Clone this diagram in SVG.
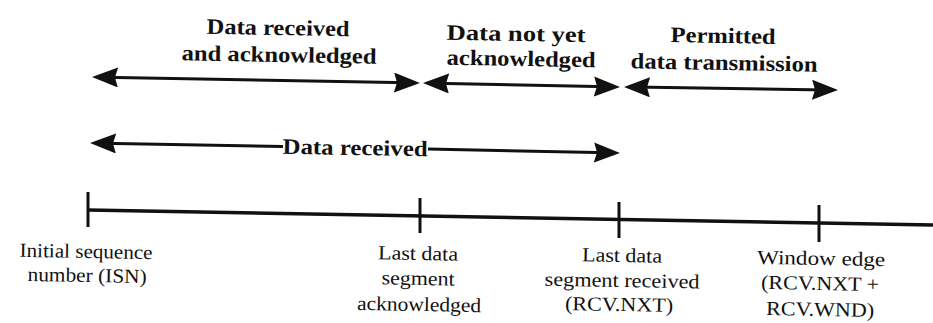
<svg xmlns="http://www.w3.org/2000/svg" width="933" height="323" viewBox="0 0 933 323">
<style>
  .hd { font-weight: bold; font-size: 22px; }
  .lb { font-weight: normal; font-size: 20px; }
  .ar { stroke: #111; stroke-width: 3; fill: none; }
  .tl { stroke: #111; stroke-width: 3.5; fill: none; }
  .tk { stroke: #111; stroke-width: 3; fill: none; }
</style>
<defs>
  <marker id="ah" markerUnits="userSpaceOnUse" markerWidth="27" markerHeight="21" viewBox="0 0 27 21" refX="15" refY="10" orient="auto-start-reverse">
    <path d="M0,0 L26,10 L0,20 L3,10 Z" fill="#111"/>
  </marker>
</defs>
<rect width="933" height="323" fill="#fff"/>

<g id="connectors">
  <path class="ar" d="M103,77.2 L409,82.8" marker-start="url(#ah)" marker-end="url(#ah)"/>
  <path class="ar" d="M434,83.2 L609,86.8" marker-start="url(#ah)" marker-end="url(#ah)"/>
  <path class="ar" d="M635,87.1 L827,89.9" marker-start="url(#ah)" marker-end="url(#ah)"/>
  <path class="ar" d="M101,143.2 L283,146.5" marker-start="url(#ah)"/>
  <path class="ar" d="M428,149 L609,152.8" marker-end="url(#ah)"/>
  <path class="tl" d="M88,210 L933,225"/>
  <path class="tk" d="M88,192 L88,227"/>
  <path class="tk" d="M420,198 L420,233"/>
  <path class="tk" d="M619,202 L619,238"/>
  <path class="tk" d="M819,205 L819,242"/>
</g>

<g font-family="Liberation Serif, Times New Roman, serif" fill="#111" text-anchor="middle">
<g id="seg-received-ack">
  <text class="hd" x="278" y="35" textLength="143" lengthAdjust="spacingAndGlyphs" transform="rotate(1 278 35)">Data received</text>
  <text class="hd" x="279" y="62" textLength="195" lengthAdjust="spacingAndGlyphs" transform="rotate(1 279 62)">and acknowledged</text>
</g>
<g id="seg-not-ack">
  <text class="hd" x="516" y="41" textLength="139" lengthAdjust="spacingAndGlyphs" transform="rotate(1 516 41)">Data not yet</text>
  <text class="hd" x="521" y="66" textLength="149" lengthAdjust="spacingAndGlyphs" transform="rotate(1 521 66)">acknowledged</text>
</g>
<g id="seg-permitted">
  <text class="hd" x="723" y="43" textLength="105" lengthAdjust="spacingAndGlyphs" transform="rotate(1 723 43)">Permitted</text>
  <text class="hd" x="724" y="70" textLength="187" lengthAdjust="spacingAndGlyphs" transform="rotate(1 724 70)">data transmission</text>
</g>
<g id="seg-received">
  <text class="hd" x="355" y="155" textLength="145" lengthAdjust="spacingAndGlyphs" transform="rotate(1 355 155)">Data received</text>
</g>

<g id="mark-isn">
  <text class="lb" x="86" y="258" textLength="133" lengthAdjust="spacingAndGlyphs" transform="rotate(1 86 258)">Initial sequence</text>
  <text class="lb" x="87" y="282" textLength="119" lengthAdjust="spacingAndGlyphs" transform="rotate(1 87 282)">number (ISN)</text>
</g>
<g id="mark-last-ack">
  <text class="lb" x="418" y="260" textLength="80" lengthAdjust="spacingAndGlyphs" transform="rotate(1 418 260)">Last data</text>
  <text class="lb" x="418" y="285" textLength="73" lengthAdjust="spacingAndGlyphs" transform="rotate(1 418 285)">segment</text>
  <text class="lb" x="419" y="311" textLength="124" lengthAdjust="spacingAndGlyphs" transform="rotate(1 419 311)">acknowledged</text>
</g>
<g id="mark-rcv-nxt">
  <text class="lb" x="622" y="262" textLength="80" lengthAdjust="spacingAndGlyphs" transform="rotate(1 622 262)">Last data</text>
  <text class="lb" x="622" y="287" textLength="155" lengthAdjust="spacingAndGlyphs" transform="rotate(1 622 287)">segment received</text>
  <text class="lb" x="619" y="311" textLength="108" lengthAdjust="spacingAndGlyphs" transform="rotate(1 619 311)">(RCV.NXT)</text>
</g>
<g id="mark-window-edge">
  <text class="lb" x="821" y="265" textLength="128" lengthAdjust="spacingAndGlyphs" transform="rotate(1 821 265)">Window edge</text>
  <text class="lb" x="820" y="290" textLength="118" lengthAdjust="spacingAndGlyphs" transform="rotate(1 820 290)">(RCV.NXT +</text>
  <text class="lb" x="820" y="316" textLength="108" lengthAdjust="spacingAndGlyphs" transform="rotate(1 820 316)">RCV.WND)</text>
</g>
</g>
</svg>
